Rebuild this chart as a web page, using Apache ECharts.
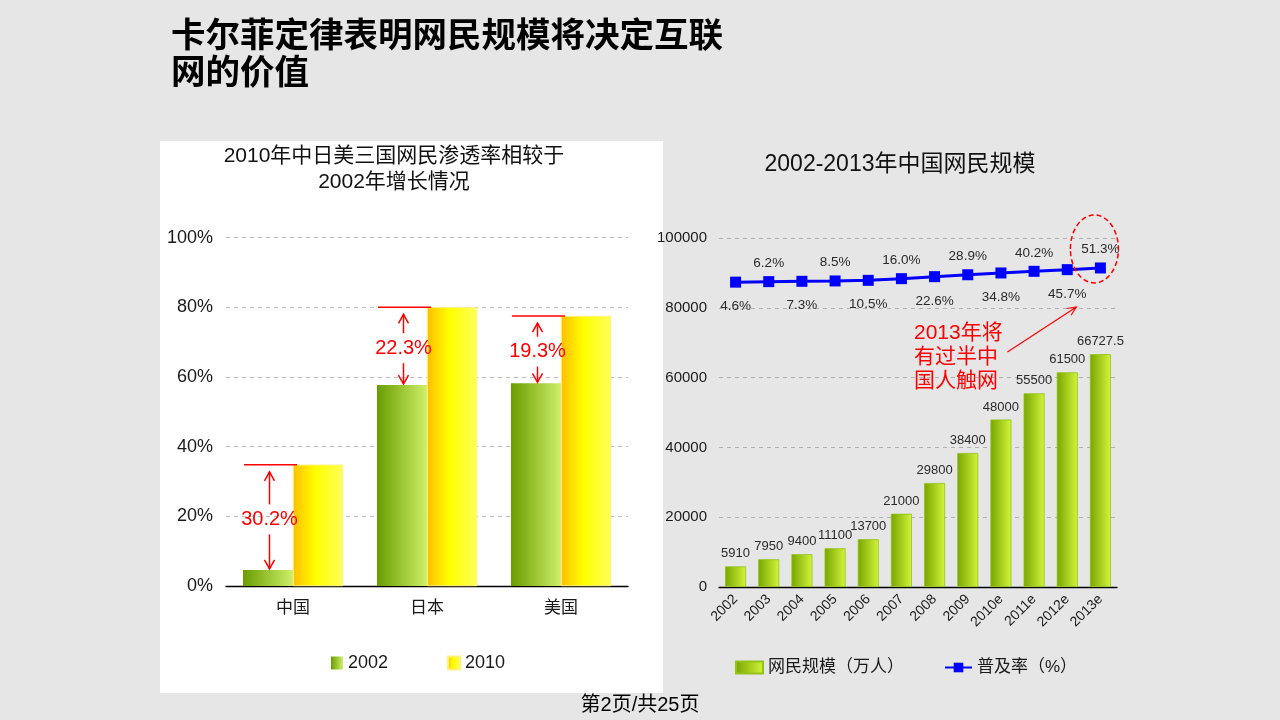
<!DOCTYPE html>
<html><head><meta charset="utf-8">
<script src="https://cdn.jsdelivr.net/npm/echarts@6/dist/echarts.min.js"></script>
<style>
html,body{margin:0;padding:0;background:#e6e6e6;}
#panel{position:absolute;left:160px;top:141px;width:503px;height:552px;background:#fff;}
#c{position:absolute;left:0;top:0;width:1280px;height:720px;}
</style>
</head><body><div id="panel"></div><div id="c"></div><script>
// ---- data ----
const countries = ['中国', '日本', '美国'];
const rate2002 = [4.6, 57.7, 58.2];
const rate2010 = [34.8, 80.0, 77.5];
const years = ['2002','2003','2004','2005','2006','2007','2008','2009','2010e','2011e','2012e','2013e'];
const netizens = [5910, 7950, 9400, 11100, 13700, 21000, 29800, 38400, 48000, 55500, 61500, 66727.5];
const penetration = [4.6, 6.2, 7.3, 8.5, 10.5, 16.0, 22.6, 28.9, 34.8, 40.2, 45.7, 51.3];
const pageTitle = '卡尔菲定律表明网民规模将决定互联\n网的价值';
const leftTitle = '2010年中日美三国网民渗透率相较于\n2002年增长情况';
const rightTitle = '2002-2013年中国网民规模';
const noteText = '2013年将\n有过半中\n国人触网';
const footer = '第2页/共25页';

const CJK = '"Noto Sans CJK SC"';
const FONT = '"Liberation Sans", "Noto Sans CJK SC", sans-serif';
const G = echarts.graphic;

const g2002 = new G.LinearGradient(0, 0, 1, 0, [{offset: 0, color: '#6a9c00'}, {offset: 1, color: '#cdf06a'}]);
const g2010 = new G.LinearGradient(0, 0, 1, 0, [{offset: 0, color: '#ffbe00'}, {offset: 0.45, color: '#ffff00'}, {offset: 1, color: '#ffff5a'}]);
const gNet = new G.LinearGradient(0, 0, 1, 0, [{offset: 0, color: '#77a500'}, {offset: 1, color: '#d4f53a'}]);

const chart = echarts.init(document.getElementById('c'), null, {renderer: 'canvas'});
const option = {
  backgroundColor: 'transparent',
  animation: false,
  textStyle: {fontFamily: FONT, color: '#1a1a1a'},
  grid: [
    {left: 226, right: 652, top: 237.7, bottom: 134},
    {left: 719, right: 163, top: 238, bottom: 133}
  ],
  xAxis: [
    {type: 'category', gridIndex: 0, data: countries,
     axisLine: {lineStyle: {color: '#000', width: 1.3}}, axisTick: {show: false},
     axisLabel: {fontSize: 17, margin: 14, color: '#1a1a1a', fontFamily: FONT}},
    {type: 'category', gridIndex: 1, data: years,
     axisLine: {lineStyle: {color: '#000', width: 1.3}}, axisTick: {show: false},
     axisLabel: {fontSize: 14, margin: 10, rotate: 45, interval: 0, color: '#1a1a1a', fontFamily: FONT}}
  ],
  yAxis: [
    {type: 'value', gridIndex: 0, min: 0, max: 100, interval: 20,
     axisLabel: {formatter: '{value}%', fontSize: 18, margin: 13, color: '#1a1a1a'},
     axisLine: {show: false}, axisTick: {show: false},
     splitLine: {lineStyle: {type: [4, 4], color: '#bdbdbd'}}},
    {type: 'value', gridIndex: 1, min: 0, max: 100000, interval: 20000,
     axisLabel: {fontSize: 15, margin: 12, color: '#1a1a1a', formatter: v => String(v)},
     axisLine: {show: false}, axisTick: {show: false},
     splitLine: {lineStyle: {type: [4, 4], color: '#b0b0b0'}}},
    {type: 'value', gridIndex: 1, min: -1000, max: 150, show: false, splitLine: {show: false}}
  ],
  legend: [
    {data: ['2002', '2010'], left: 331, top: 654, padding: 0, icon: 'rect', itemWidth: 12, itemHeight: 13, itemGap: 59,
     textStyle: {fontSize: 18, color: '#1a1a1a', fontFamily: FONT}},
    {data: [{name: '网民规模（万人）', icon: 'rect'}, {name: '普及率（%）'}], left: 735, top: 659, padding: 0,
     itemWidth: 27, itemHeight: 12, itemGap: 40,
     textStyle: {fontSize: 17, color: '#1a1a1a', fontFamily: FONT}}
  ],
  series: [
    {name: '2002', type: 'bar', xAxisIndex: 0, yAxisIndex: 0, data: rate2002, barWidth: 50, barGap: '0%',
     itemStyle: {color: g2002}},
    {name: '2010', type: 'bar', xAxisIndex: 0, yAxisIndex: 0, data: rate2010, barWidth: 50, barGap: '0%',
     itemStyle: {color: g2010, borderColor: '#fff27a', borderWidth: 0.6}},
    {name: '网民规模（万人）', type: 'bar', xAxisIndex: 1, yAxisIndex: 1, data: netizens, barWidth: 21,
     itemStyle: {color: gNet, borderColor: '#93c21a', borderWidth: 0.8},
     label: {show: true, position: 'top', distance: 6, fontSize: 13, color: '#2a2a2a', fontFamily: FONT}},
    {name: '普及率（%）', type: 'line', xAxisIndex: 1, yAxisIndex: 2,
     data: penetration.map((v, i) => ({value: v, label: {position: i % 2 === 0 ? 'bottom' : 'top', distance: i % 2 === 0 ? 12 : 6}})),
     color: '#0000ff', lineStyle: {width: 3, color: '#0000ff'}, symbol: 'rect', symbolSize: 11,
     itemStyle: {color: '#0000ff'},
     label: {show: true, fontSize: 13.5, color: '#2a2a2a', fontFamily: FONT,
             formatter: p => p.value.toFixed(1) + '%'}}
  ]
};
chart.setOption(option);

// ---- annotations ----
const RED = '#ff0000';
const els = [];
els.push({type: 'text', style: {text: pageTitle, x: 171, y: 16, font: 'bold 34.5px ' + CJK, fill: '#000', lineHeight: 36.7, textVerticalAlign: 'top'}});
els.push({type: 'text', style: {text: leftTitle, x: 394, y: 142.6, font: '21px ' + FONT, fill: '#111', lineHeight: 26.7, textAlign: 'center', textVerticalAlign: 'top'}});
els.push({type: 'text', style: {text: rightTitle, x: 900, y: 165, font: '23px ' + FONT, fill: '#111', textAlign: 'center', textVerticalAlign: 'middle'}});
els.push({type: 'text', style: {text: footer, x: 640, y: 705, font: '20px ' + FONT, fill: '#000', textAlign: 'center', textVerticalAlign: 'middle'}});

function arrowHead(tx, ty, dx, dy, len, half) {
  const l = Math.hypot(dx, dy); const ux = dx / l, uy = dy / l;
  const bx = tx - ux * len, by = ty - uy * len;
  return [[bx - uy * half, by + ux * half], [tx, ty], [bx + uy * half, by - ux * half]];
}
const redStroke = {stroke: RED, lineWidth: 1.5, fill: null};
countries.forEach((c, i) => {
  const [cx, yTop] = chart.convertToPixel({gridIndex: 0}, [i, rate2010[i]]);
  const yBot = chart.convertToPixel({gridIndex: 0}, [i, rate2002[i]])[1];
  const barLeft = cx - 50;
  const ax = cx - 25 + 1.5;
  const yc = (yTop + yBot) / 2 + 2;
  els.push({type: 'line', shape: {x1: barLeft + 1, y1: yTop, x2: barLeft + 54, y2: yTop}, style: {stroke: RED, lineWidth: 1.5}, z: 10});
  els.push({type: 'line', shape: {x1: ax, y1: yc - 15, x2: ax, y2: yTop + 7}, style: {stroke: RED, lineWidth: 1.5}, z: 10});
  els.push({type: 'polyline', shape: {points: arrowHead(ax, yTop + 7, 0, -1, 9, 5)}, style: redStroke, z: 10});
  els.push({type: 'line', shape: {x1: ax, y1: yc + 15, x2: ax, y2: yBot - 1}, style: {stroke: RED, lineWidth: 1.5}, z: 10});
  els.push({type: 'polyline', shape: {points: arrowHead(ax, yBot - 1, 0, 1, 9, 5)}, style: redStroke, z: 10});
  els.push({type: 'text', style: {text: (rate2010[i] - rate2002[i]).toFixed(1) + '%', x: ax, y: yc, font: '20px ' + FONT, fill: RED, textAlign: 'center', textVerticalAlign: 'middle'}, z: 10});
});

const last = penetration.length - 1;
const [px, py] = chart.convertToPixel({seriesIndex: 3}, [last, penetration[last]]);
els.push({type: 'ellipse', shape: {cx: px - 6, cy: py - 19, rx: 24, ry: 34}, style: {stroke: RED, lineWidth: 1.5, fill: null, lineDash: [5, 3]}, z: 10});
const tip = [px - 24, py + 39], start = [px - 93, py + 84];
els.push({type: 'line', shape: {x1: start[0], y1: start[1], x2: tip[0], y2: tip[1]}, style: {stroke: RED, lineWidth: 1.2}, z: 10});
els.push({type: 'polyline', shape: {points: arrowHead(tip[0], tip[1], tip[0] - start[0], tip[1] - start[1], 9, 4)}, style: {stroke: RED, lineWidth: 1.2, fill: null}, z: 10});
els.push({type: 'text', style: {text: noteText, x: 914, y: 321, font: '21px ' + FONT, fill: RED, lineHeight: 24, textVerticalAlign: 'top'}, z: 10});

chart.setOption({graphic: els});
</script></body></html>
